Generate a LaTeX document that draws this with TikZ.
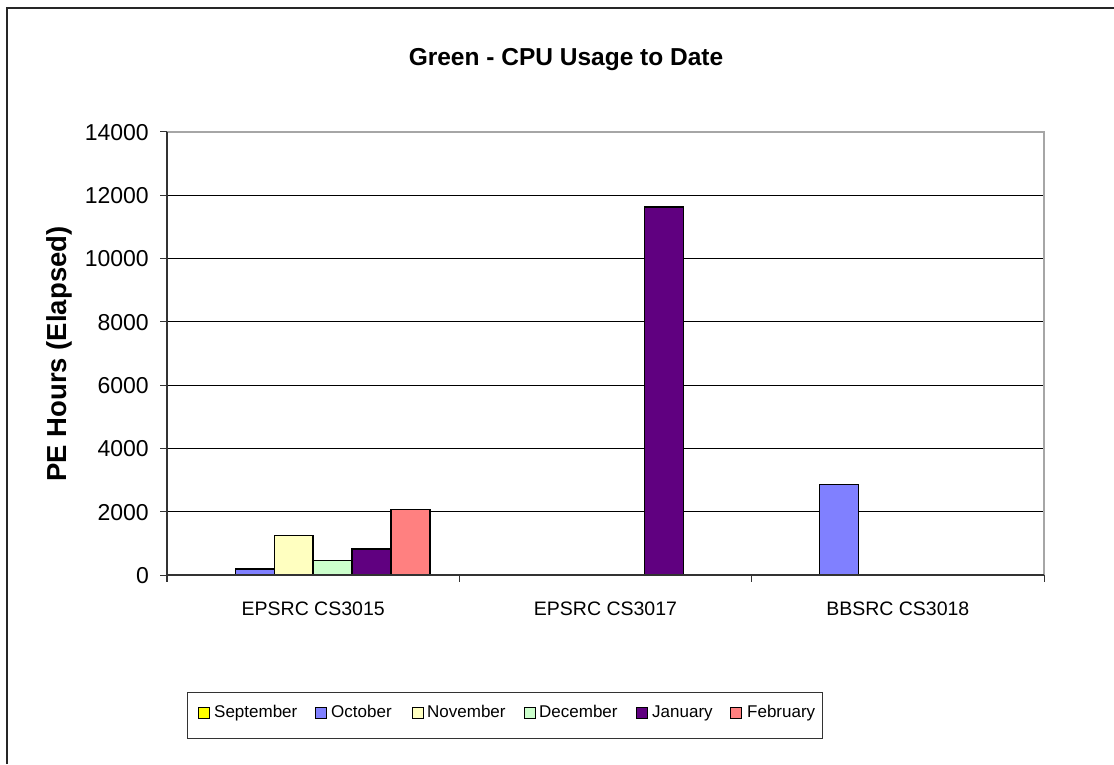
\documentclass[tikz,border=0pt]{standalone}
\usepackage{fontspec}
\setmainfont{Liberation Sans}
\definecolor{cSep}{RGB}{255,255,0}
\definecolor{cOct}{RGB}{128,128,255}
\definecolor{cNov}{RGB}{255,255,192}
\definecolor{cDec}{RGB}{204,255,204}
\definecolor{cJan}{RGB}{96,0,128}
\definecolor{cFeb}{RGB}{255,128,128}
\newcommand\chartbar[3]{% category, bar index, colour; value in \barval
  \filldraw[barstyle,fill=#3] ({167+#1*292.33+29.2+#2*38.98},575) rectangle ({167+#1*292.33+29.2+(#2+1)*38.98},{575-\barval*0.0316428});}
\begin{document}
\begin{tikzpicture}[x=1pt,y=-1pt,
  barstyle/.style={draw=black,line width=1.3pt},
  swatch/.style={draw=black,line width=1pt,minimum width=11pt,minimum height=11pt,inner sep=0pt},
  legtext/.style={anchor=base west,font=\fontsize{17}{17}\selectfont,inner sep=0pt},
  ticklab/.style={anchor=base east,font=\fontsize{23}{23}\selectfont,inner sep=0pt},
  catlab/.style={anchor=base,font=\fontsize{19.5}{19.5}\selectfont,inner sep=0pt}]
\useasboundingbox (0,0) rectangle (1114,764);
% outer frame
\draw[line width=2pt,black!85] (6.5,764) -- (6.5,7.5) -- (1114,7.5);
% title
\node[anchor=base,font=\bfseries\fontsize{24.5}{24.5}\selectfont,inner sep=0pt] (title) at (566,65) {Green - CPU Usage to Date};
% gridlines
\foreach \v in {2000,4000,...,12000}
  \draw[black,line width=1pt] (167,{575-\v*0.0316428}) -- (1044,{575-\v*0.0316428});
% plot border
\draw[gray!70,line width=1.4pt] (167,132) -- (1044,132) -- (1044,575);
% bars
\def\barval{190}\chartbar{0}{1}{cOct}
\def\barval{1240}\chartbar{0}{2}{cNov}
\def\barval{465}\chartbar{0}{3}{cDec}
\def\barval{820}\chartbar{0}{4}{cJan}
\def\barval{2075}\chartbar{0}{5}{cFeb}
\def\barval{11630}\chartbar{1}{4}{cJan}
\def\barval{2865}\chartbar{2}{1}{cOct}
% axes
\draw[black!80,line width=1.2pt] (167,132) -- (167,582);
\draw[black!80,line width=1.2pt] (167,575) -- (1044,575);
\foreach \v in {0,2000,...,14000}{
  \draw[black!80,line width=1pt] (160,{575-\v*0.0316428}) -- (167,{575-\v*0.0316428});
  \node[ticklab] at (149,{575-\v*0.0316428+8.3}) {\v};
}
\foreach \k in {1,2,3}
  \draw[black!80,line width=1pt] ({167+\k*292.33},575) -- ({167+\k*292.33},582);
% category labels
\node[catlab] (c1) at (313.2,615) {EPSRC CS3015};
\node[catlab] (c2) at (605.5,615) {EPSRC CS3017};
\node[catlab] (c3) at (897.8,615) {BBSRC CS3018};
% y label
\node[anchor=base,rotate=90,font=\bfseries\fontsize{27.5}{27.5}\selectfont,inner sep=0pt] (ylab) at (66.5,354) {PE Hours (Elapsed)};
% legend
\draw[black!80,line width=1pt] (187,692) rectangle (822,738);
\node[swatch,fill=cSep] (s1) at (203.5,713) {};
\node[legtext] (t1) at (214,717.5) {September};
\node[swatch,fill=cOct] (s2) at (320.8,713) {};
\node[legtext] (t2) at (331,717.5) {October};
\node[swatch,fill=cNov] (s3) at (417.7,713) {};
\node[legtext] (t3) at (427,717.5) {November};
\node[swatch,fill=cDec] (s4) at (529.9,713) {};
\node[legtext] (t4) at (539,717.5) {December};
\node[swatch,fill=cJan] (s5) at (641.8,713) {};
\node[legtext] (t5) at (652,717.5) {January};
\node[swatch,fill=cFeb] (s6) at (736.4,713) {};
\node[legtext] (t6) at (747,717.5) {February};
\end{tikzpicture}
\end{document}
